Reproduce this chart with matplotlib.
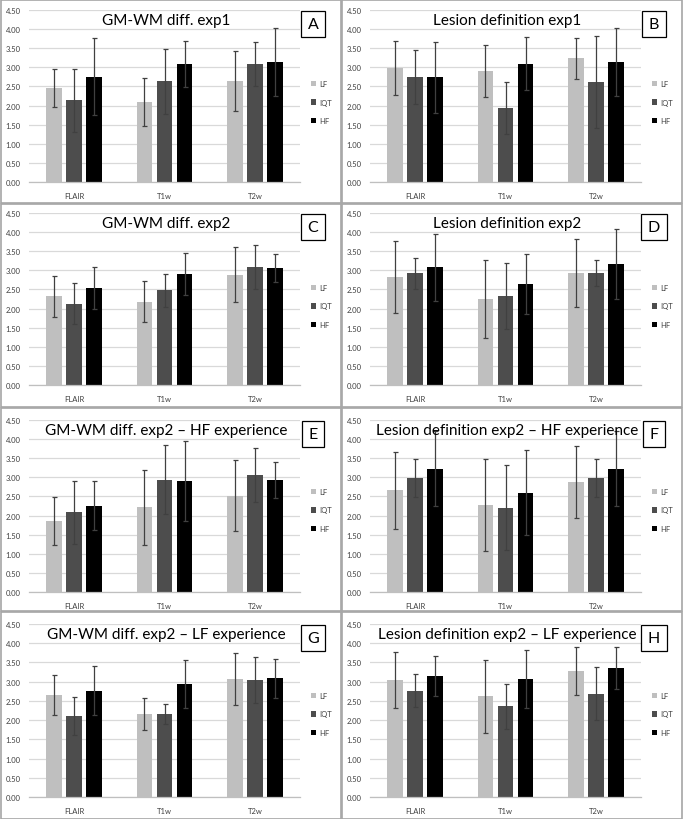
import matplotlib.pyplot as plt
import numpy as np
from matplotlib.patches import Rectangle

plt.rcParams['font.family'] = ['Lato', 'DejaVu Sans']

W, H = 685, 820

categories = ["FLAIR", "T1w", "T2w"]
series = ["LF", "IQT", "HF"]
bar_colors = ["#bfbfbf", "#4d4d4d", "#000000"]

titles = [
    "GM-WM diff. exp1",
    "Lesion definition exp1",
    "GM-WM diff. exp2",
    "Lesion definition exp2",
    "GM-WM diff. exp2 \u2013 HF experience",
    "Lesion definition exp2 \u2013 HF experience",
    "GM-WM diff. exp2 \u2013 LF experience",
    "Lesion definition exp2 \u2013 LF experience",
]
letters = ["A", "B", "C", "D", "E", "F", "G", "H"]

# rows: LF, IQT, HF ; columns: FLAIR, T1w, T2w
a_mean = [[2.45, 2.09, 2.64], [2.14, 2.64, 3.09], [2.75, 3.09, 3.15]]
a_err = [[0.50, 0.62, 0.79], [0.82, 0.85, 0.57], [1.01, 0.61, 0.89]]
b_mean = [[2.99, 2.90, 3.24], [2.74, 1.93, 2.62], [2.74, 3.10, 3.15]]
b_err = [[0.71, 0.68, 0.54], [0.71, 0.68, 1.20], [0.93, 0.70, 0.89]]
c_mean = [[2.32, 2.18, 2.89], [2.13, 2.48, 3.08], [2.54, 2.90, 3.06]]
c_err = [[0.54, 0.53, 0.71], [0.53, 0.43, 0.57], [0.55, 0.55, 0.36]]
d_mean = [[2.83, 2.25, 2.94], [2.92, 2.32, 2.92], [3.08, 2.65, 3.16]]
d_err = [[0.95, 1.01, 0.89], [0.41, 0.86, 0.34], [0.88, 0.79, 0.91]]
e_mean = [[1.85, 2.22, 2.52], [2.08, 2.94, 3.07], [2.26, 2.90, 2.94]]
e_err = [[0.63, 0.98, 0.93], [0.83, 0.91, 0.71], [0.65, 1.05, 0.47]]
f_mean = [[2.66, 2.27, 2.88], [2.99, 2.21, 2.99], [3.23, 2.60, 3.23]]
f_err = [[1.00, 1.20, 0.94], [0.50, 1.10, 0.50], [0.97, 1.11, 0.97]]
g_mean = [[2.65, 2.16, 3.07], [2.10, 2.16, 3.04], [2.76, 2.94, 3.09]]
g_err = [[0.53, 0.42, 0.68], [0.50, 0.25, 0.59], [0.64, 0.63, 0.51]]
h_mean = [[3.04, 2.62, 3.28], [2.77, 2.36, 2.69], [3.15, 3.07, 3.35]]
h_err = [[0.73, 0.95, 0.63], [0.44, 0.59, 0.68], [0.53, 0.76, 0.55]]

means = [a_mean, b_mean, c_mean, d_mean, e_mean, f_mean, g_mean, h_mean]
errs = [a_err, b_err, c_err, d_err, e_err, f_err, g_err, h_err]

yticks = np.arange(0, 4.51, 0.5)

fig = plt.figure(figsize=(W / 100, H / 100), dpi=100)

panel_w = 341
row_y = [0, 204, 408, 612]
row_h = [204, 204, 204, 208]
plot_top = [11, 10, 13, 13]
plot_bot = [183, 182, 185, 186]


def fx(px):
    return px / W


def fy(py):
    return 1 - py / H


x = np.arange(len(categories))
offset = 0.222
width = 0.175

for i in range(8):
    row, col = divmod(i, 2)
    px0 = col * panel_w
    py0 = row_y[row]

    # panel frame
    fig.add_artist(Rectangle((fx(px0 + 0.5), fy(py0 + row_h[row] - 0.5)),
                             (panel_w - 1) / W, (row_h[row] - 1) / H,
                             transform=fig.transFigure, fill=False,
                             edgecolor="#a6a6a6", linewidth=1.2))

    left, right = px0 + 29, px0 + 300
    top, bot = py0 + plot_top[row], py0 + plot_bot[row]
    ax = fig.add_axes([fx(left), fy(bot), (right - left) / W, (bot - top) / H])

    handles = []
    for s in range(3):
        b = ax.bar(x + (s - 1) * offset, means[i][s], width, color=bar_colors[s],
                   yerr=errs[i][s], capsize=1.8,
                   error_kw=dict(ecolor="#404040", elinewidth=0.9, capthick=0.9),
                   zorder=2)
        handles.append(b)

    ax.set_xlim(-0.5, 2.5)
    ax.set_ylim(0, 4.5)
    ax.set_yticks(yticks)
    ax.set_yticklabels(["%.2f" % t for t in yticks])
    ax.set_xticks(x)
    ax.set_xticklabels(categories)
    ax.tick_params(axis="both", length=0, labelsize=5.5, colors="#404040")
    ax.tick_params(axis="y", pad=6)
    ax.tick_params(axis="x", pad=7)
    ax.grid(axis="y", color="#d9d9d9", linewidth=0.9, zorder=0)
    ax.set_axisbelow(True)
    for sp in ["top", "right", "left"]:
        ax.spines[sp].set_visible(False)
    ax.spines["bottom"].set_color("#bfbfbf")
    ax.spines["bottom"].set_linewidth(0.9)

    fig.text(fx(px0 + 166), fy(py0 + plot_top[row] + 10), titles[i],
             ha="center", va="center", fontsize=11, color="black")

    fig.text(fx(px0 + 313), fy(py0 + plot_top[row] + 14), letters[i],
             ha="center", va="center", fontsize=11.5, color="black",
             bbox=dict(boxstyle="square,pad=0.4", facecolor="white",
                       edgecolor="black", linewidth=0.9))

    ax.legend(handles, series, loc="center left",
              bbox_to_anchor=(fx(px0 + 311), fy(py0 + 103)),
              bbox_transform=fig.transFigure, frameon=False, fontsize=5.5,
              handlelength=0.7, handleheight=0.7, handletextpad=0.4,
              labelspacing=1.5, borderpad=0, borderaxespad=0,
              labelcolor="#404040")

fig.savefig("out.png", dpi=100)
